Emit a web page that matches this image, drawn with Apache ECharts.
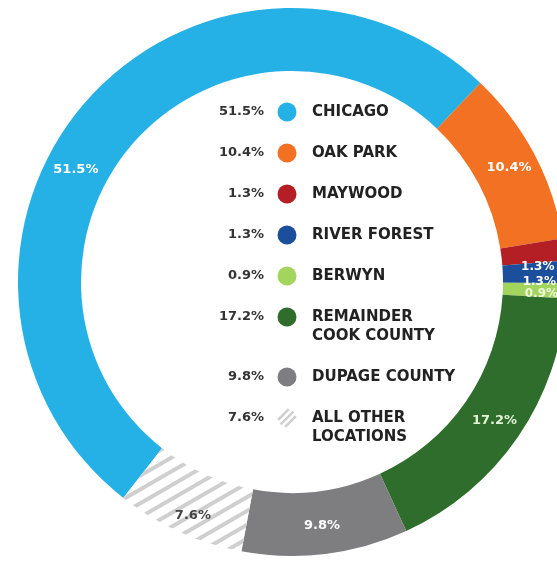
<!DOCTYPE html>
<html>
<head>
<meta charset="utf-8">
<title>Share by location</title>
<script src="https://cdn.jsdelivr.net/npm/echarts@6/dist/echarts.min.js"></script>
<style>
  html, body { margin: 0; padding: 0; background: #fff; }
  #chart { width: 557px; height: 564px; }
</style>
</head>
<body>
<div id="chart"></div>
<script>
// data
const locations = ['CHICAGO', 'OAK PARK', 'MAYWOOD', 'RIVER FOREST', 'BERWYN',
  'REMAINDER\nCOOK COUNTY', 'DUPAGE COUNTY', 'ALL OTHER\nLOCATIONS'];
const shares = [51.5, 10.4, 1.3, 1.3, 0.9, 17.2, 9.8, 7.6];
const colors = ['#25b1e6', '#f37122', '#b41f26', '#1b4f9b', '#a3d45d', '#2e6d2b', '#7e7e80', '#ffffff'];
const labelColors = ['#fff', '#fff', '#fff', '#fff', '#eef8dd', '#e4f3d6', '#fff', '#444'];

const chart = echarts.init(document.getElementById('chart'));

// hatched look for "all other locations"
const hatch = {
  symbol: 'rect',
  symbolSize: 1,
  color: '#cfcfcf',
  dashArrayX: [1, 0],
  dashArrayY: [4, 8],
  rotation: -Math.PI / 6
};

const pieData = shares.map((v, i) => ({
  name: locations[i],
  value: v,
  itemStyle: i === 7 ? { color: colors[i], decal: hatch } : { color: colors[i] },
  label: { color: labelColors[i], fontSize: v < 2 ? 12 : 13 }
}));

// legend in the middle: percent | dot | name
const legendX = 287;
const graphics = [];
let rowY = 112;
locations.forEach((name, i) => {
  const lines = name.split('\n').length;
  graphics.push({
    type: 'text', x: legendX - 23, y: rowY,
    style: { text: shares[i].toFixed(1) + '%', fill: '#333', font: 'bold 13px "DejaVu Sans"',
      align: 'right', verticalAlign: 'middle' }
  });
  if (i === 7) {
    // little hatched dot
    [-5, 0, 5].forEach(d => {
      const h = Math.sqrt(Math.max(81 - d * d, 0));
      const ox = legendX + d * 0.707, oy = rowY + d * 0.707;
      graphics.push({
        type: 'line',
        shape: { x1: ox - h * 0.707, y1: oy + h * 0.707, x2: ox + h * 0.707, y2: oy - h * 0.707 },
        style: { stroke: '#cfcfcf', lineWidth: 2.5 }
      });
    });
  } else {
    graphics.push({
      type: 'circle', shape: { cx: legendX, cy: rowY, r: 9.5 },
      style: { fill: colors[i] }
    });
  }
  graphics.push({
    type: 'text', x: legendX + 25, y: rowY - 9,
    style: { text: name, fill: '#222', font: 'bold 15px "DejaVu Sans"',
      lineHeight: 19, align: 'left', verticalAlign: 'top' }
  });
  rowY += 41 + (lines - 1) * 19;
});

const option = {
  backgroundColor: '#fff',
  animation: false,
  graphic: graphics,
  series: [{
    type: 'pie',
    center: [292, 282],
    radius: [211, 274],
    startAngle: 232,
    clockwise: true,
    avoidLabelOverlap: false,
    label: {
      show: true,
      position: 'inside',
      formatter: p => p.value.toFixed(1) + '%',
      fontFamily: 'DejaVu Sans',
      fontWeight: 'bold',
      fontSize: 13
    },
    labelLine: { show: false },
    labelLayout: p => {
      // nudges to sit where the printed labels are
      const nudge = { 0: [-30, 48], 2: [2, 14], 3: [2, 9], 4: [4, 4], 7: [2, 10] };
      const n = nudge[p.dataIndex];
      return n ? { dx: n[0], dy: n[1] } : {};
    },
    emphasis: { scale: false },
    data: pieData
  }]
};

chart.setOption(option);
</script>
</body>
</html>
